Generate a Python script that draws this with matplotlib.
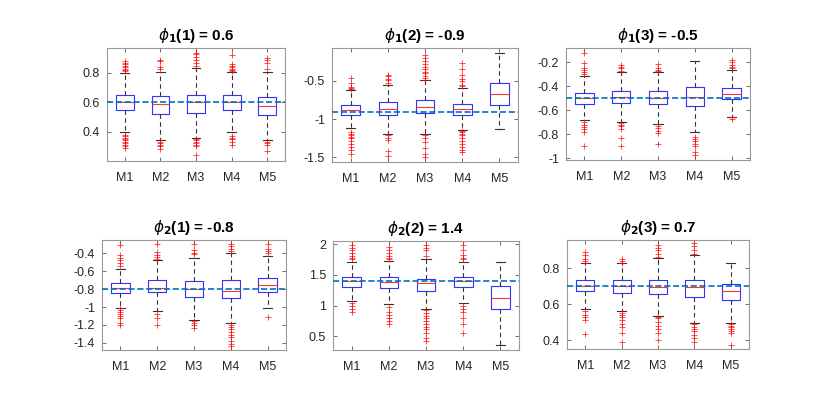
import matplotlib
matplotlib.use("Agg")
import matplotlib.pyplot as plt

plt.rcParams['font.family'] = ['Liberation Sans', 'DejaVu Sans']
plt.rcParams['mathtext.fontset'] = 'dejavusans'

methods = ['M1', 'M2', 'M3', 'M4', 'M5']
titles = [r'$\phi_\mathbf{1}$(1) = 0.6', r'$\phi_\mathbf{1}$(2) = -0.9',
          r'$\phi_\mathbf{1}$(3) = -0.5', r'$\phi_\mathbf{2}$(1) = -0.8',
          r'$\phi_\mathbf{2}$(2) = 1.4', r'$\phi_\mathbf{2}$(3) = 0.7']
true_vals = [0.6, -0.9, -0.5, -0.8, 1.4, 0.7]

# box statistics per panel, one value per method
q1 = [[0.546, 0.521, 0.528, 0.546, 0.512],
      [-0.95, -0.952, -0.925, -0.943, -0.81],
      [-0.551, -0.542, -0.548, -0.567, -0.507],
      [-0.845, -0.837, -0.89, -0.90, -0.826],
      [1.308, 1.28, 1.243, 1.30, 0.94],
      [0.67, 0.661, 0.655, 0.639, 0.624]]
med = [[0.602, 0.591, 0.600, 0.602, 0.578],
       [-0.88, -0.864, -0.846, -0.873, -0.67],
       [-0.50, -0.493, -0.496, -0.488, -0.463],
       [-0.79, -0.789, -0.80, -0.815, -0.755],
       [1.40, 1.383, 1.37, 1.394, 1.12],
       [0.703, 0.698, 0.694, 0.692, 0.674]]
q3 = [[0.649, 0.645, 0.652, 0.649, 0.634],
      [-0.81, -0.776, -0.75, -0.80, -0.53],
      [-0.452, -0.438, -0.438, -0.405, -0.41],
      [-0.733, -0.696, -0.707, -0.696, -0.67],
      [1.47, 1.47, 1.44, 1.47, 1.324],
      [0.735, 0.731, 0.735, 0.735, 0.712]]
whis_lo = [[0.40, 0.34, 0.357, 0.40, 0.34],
           [-1.11, -1.20, -1.20, -1.136, -1.127],
           [-0.68, -0.70, -0.712, -0.78, -0.652],
           [-1.005, -1.04, -1.143, -1.18, -1.005],
           [1.076, 1.02, 0.94, 1.05, 0.363],
           [0.574, 0.56, 0.535, 0.495, 0.495]]
whis_hi = [[0.80, 0.807, 0.834, 0.807, 0.807],
           [-0.62, -0.553, -0.487, -0.596, -0.136],
           [-0.315, -0.28, -0.28, -0.19, -0.266],
           [-0.576, -0.47, -0.446, -0.397, -0.434],
           [1.71, 1.723, 1.75, 1.71, 1.71],
           [0.827, 0.827, 0.854, 0.87, 0.827]]
outliers = [
    [[0.81, 0.82, 0.83, 0.84, 0.85, 0.86, 0.87, 0.88, 0.38, 0.37, 0.36, 0.35, 0.34, 0.33, 0.32, 0.31, 0.30, 0.29],
     [0.83, 0.84, 0.88, 0.89, 0.33, 0.32, 0.31, 0.30, 0.28],
     [0.85, 0.87, 0.89, 0.91, 0.93, 0.935, 0.35, 0.34, 0.33, 0.32, 0.31, 0.30, 0.24],
     [0.81, 0.82, 0.83, 0.84, 0.85, 0.86, 0.92, 0.37, 0.36, 0.35, 0.33, 0.31],
     [0.83, 0.87, 0.89, 0.90, 0.33, 0.32, 0.31, 0.27]],
    [[-0.465, -0.53, -0.575, -0.59, -0.605, -1.17, -1.19, -1.21, -1.23, -1.25, -1.28, -1.32, -1.36, -1.40, -1.45],
     [-0.42, -0.44, -0.47, -0.49, -0.53, -1.21, -1.24, -1.27, -1.42, -1.48],
     [-0.16, -0.20, -0.24, -0.28, -0.32, -0.35, -0.38, -0.40, -0.43, -0.46, -0.49, -1.21, -1.25, -1.30, -1.38, -1.45, -1.50],
     [-0.27, -0.35, -0.42, -0.47, -0.50, -0.55, -0.57, -1.15, -1.17, -1.19, -1.21, -1.24, -1.28, -1.32, -1.36, -1.40, -1.43],
     []],
    [[-0.123, -0.205, -0.25, -0.26, -0.28, -0.30, -0.70, -0.72, -0.74, -0.76, -0.78, -0.90],
     [-0.22, -0.24, -0.25, -0.27, -0.71, -0.72, -0.73, -0.76, -0.83, -0.90],
     [-0.21, -0.25, -0.26, -0.27, -0.73, -0.75, -0.77, -0.79, -0.885],
     [-0.82, -0.84, -0.86, -0.88, -0.90, -0.95, -0.97],
     [-0.18, -0.20, -0.22, -0.24, -0.25, -0.66, -0.67]],
    [[-0.304, -0.416, -0.45, -0.472, -0.51, -0.546, -1.01, -1.03, -1.05, -1.08, -1.10, -1.12, -1.18, -1.20],
     [-0.30, -0.38, -0.42, -0.44, -0.46, -1.08, -1.12, -1.20],
     [-0.30, -0.36, -0.39, -0.41, -1.16, -1.18, -1.20, -1.23],
     [-0.30, -0.32, -0.35, -0.37, -1.20, -1.22, -1.25, -1.28, -1.31, -1.34, -1.38, -1.41, -1.44],
     [-0.30, -0.35, -0.37, -0.40, -1.113]],
    [[1.98, 1.94, 1.90, 1.85, 1.80, 1.78, 1.75, 1.05, 1.0, 0.95, 0.90],
     [1.96, 1.90, 1.85, 1.80, 1.77, 1.75, 0.98, 0.90, 0.85, 0.80, 0.75, 0.71],
     [1.98, 1.94, 1.90, 1.80, 0.93, 0.88, 0.84, 0.80, 0.75, 0.70, 0.65, 0.62, 0.55, 0.48, 0.42],
     [1.98, 1.90, 1.83, 1.78, 1.75, 1.0, 0.95, 0.90, 0.80, 0.70, 0.55],
     []],
    [[0.89, 0.87, 0.85, 0.84, 0.83, 0.56, 0.54, 0.53, 0.51, 0.436],
     [0.85, 0.84, 0.83, 0.55, 0.54, 0.53, 0.51, 0.49, 0.47, 0.44, 0.39],
     [0.93, 0.91, 0.90, 0.88, 0.86, 0.53, 0.52, 0.50, 0.48, 0.46, 0.44, 0.40],
     [0.94, 0.92, 0.90, 0.88, 0.49, 0.47, 0.46, 0.45, 0.43, 0.41, 0.39],
     [0.49, 0.48, 0.47, 0.46, 0.45, 0.44, 0.375]],
]
ylims = [(0.2, 0.97), (-1.56, -0.07), (-1.015, -0.08), (-1.48, -0.25), (0.28, 2.05), (0.35, 0.956)]
yticks = [[0.4, 0.6, 0.8], [-1.5, -1, -0.5], [-1, -0.8, -0.6, -0.4, -0.2],
          [-1.4, -1.2, -1, -0.8, -0.6, -0.4], [0.5, 1, 1.5, 2], [0.4, 0.6, 0.8]]
yticklabels = [['0.4', '0.6', '0.8'], ['-1.5', '-1', '-0.5'], ['-1', '-0.8', '-0.6', '-0.4', '-0.2'],
               ['-1.4', '-1.2', '-1', '-0.8', '-0.6', '-0.4'], ['0.5', '1', '1.5', '2'], ['0.4', '0.6', '0.8']]

positions = [(107, 48, 285, 161), (332, 48, 518, 162), (566, 48, 750, 160),
             (102, 240, 286, 350), (333, 241, 519, 350), (567, 240, 749, 349)]

W, H = 830, 395
fig = plt.figure(figsize=(W / 100, H / 100), dpi=100)

for k in range(6):
    x0, y0, x1, y1 = positions[k]
    ax = fig.add_axes([x0 / W, (H - y1) / H, (x1 - x0) / W, (y1 - y0) / H])
    stats = []
    for i, m in enumerate(methods):
        stats.append(dict(label=m, med=med[k][i], q1=q1[k][i], q3=q3[k][i],
                          whislo=whis_lo[k][i], whishi=whis_hi[k][i], fliers=outliers[k][i]))
    ax.bxp(stats, widths=0.5, capwidths=0.25,
           boxprops=dict(color='#3333ff', linewidth=0.8),
           medianprops=dict(color='#ff3333', linewidth=0.8),
           whiskerprops=dict(color='#333333', linewidth=0.8, linestyle=(0, (4, 3))),
           capprops=dict(color='#333333', linewidth=0.8),
           flierprops=dict(marker='+', markeredgecolor='red', markersize=5,
                           markeredgewidth=0.6, linestyle='none', alpha=0.8))
    ax.axhline(true_vals[k], color='#0072BD', linestyle='--', linewidth=1.2, zorder=5)
    ax.set_xlim(0.5, 5.5)
    ax.set_ylim(*ylims[k])
    ax.set_yticks(yticks[k])
    ax.set_yticklabels(yticklabels[k])
    ax.tick_params(direction='in', length=3, width=0.6, color='#555555',
                   labelsize=9, labelcolor='#262626', top=True, right=True, pad=5)
    ax.tick_params(axis='x', pad=8)
    for s in ax.spines.values():
        s.set_color('#999999')
        s.set_linewidth(0.8)
    ax.set_title(titles[k], fontsize=11, fontweight='bold', pad=6)

fig.savefig('out.png', dpi=100)
